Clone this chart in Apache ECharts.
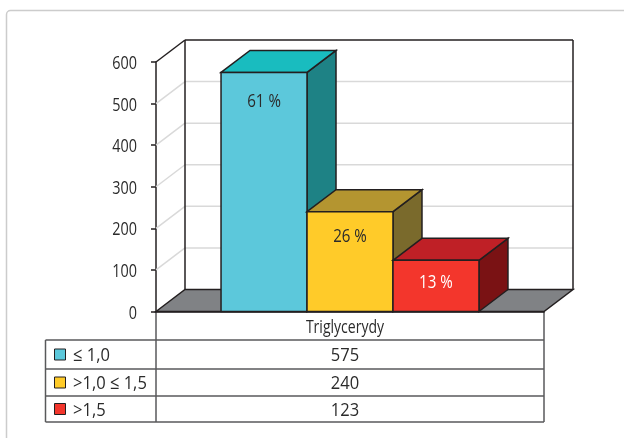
<!DOCTYPE html>
<html>
<head>
<meta charset="utf-8">
<style>html,body{margin:0;padding:0;background:#fff}#chart{width:624px;height:438px}</style>
<script src="https://cdn.jsdelivr.net/npm/echarts@6/dist/echarts.min.js"></script>
</head>
<body>
<div id="chart"></div>
<script>
// Triglycerides: patient counts by concentration range
const categories = ['Triglycerydy'];
const seriesNames = ['≤ 1,0', '>1,0 ≤ 1,5', '>1,5'];
const seriesValues = [575, 240, 123];
const percentLabels = ['61 %', '26 %', '13 %'];
const yTicks = [0, 100, 200, 300, 400, 500, 600];

// Face colours of each box: front, top, side
const frontColors = ['#5cc8db', '#ffcb29', '#f3362c'];
const topColors = ['#19bcbf', '#b49530', '#bf2026'];
const sideColors = ['#1e8285', '#7a6a2c', '#7a1214'];
const labelColors = ['#2b2b2b', '#2b2b2b', '#ffffff'];
const labelDrops = [29, 25, 23];

const FONT = '"Open Sans", sans-serif';
const INK = '#231f20';
const TEXT = '#2b2b2b';
const DX = 29, DY = -22;          // oblique projection of the depth axis
const BAR_SHARE = 0.2216;         // box width as a share of the category band
const TABLE = { left: 45.5, split: 156, right: 544, mid: 345, rows: [311.5, 340, 369, 396, 422] };

function poly(points, fill, stroke, width) {
  return {
    type: 'polygon',
    shape: { points },
    style: { fill, stroke: stroke || null, lineWidth: width || 0, lineJoin: 'miter' }
  };
}
function seg(x1, y1, x2, y2, stroke, width) {
  return { type: 'line', shape: { x1, y1, x2, y2 }, style: { stroke, lineWidth: width } };
}
// Condensed lettering: regular face squeezed horizontally around its anchor
function narrowText(x, y, text, fill, align, squeeze, size) {
  return {
    type: 'text',
    x, y,
    scaleX: squeeze,
    style: { x: 0, y: 0, text, fill, font: size + 'px ' + FONT, align, verticalAlign: 'middle' }
  };
}

// Back wall, side wall gridlines, floor and the value scale lettering
function renderWalls(params, api) {
  const band = api.size([1, 0])[0];
  const cx = api.coord([0, 0])[0];
  const l = cx - band / 2, r = cx + band / 2;
  const children = [];
  const y0 = api.coord([0, 0])[1];
  const yTop = api.coord([0, yTicks[yTicks.length - 1]])[1];
  yTicks.forEach(t => {
    const y = api.coord([0, t])[1];
    children.push(narrowText(l - 19, y + 2, String(t), TEXT, 'right', 0.8, 18));
    if (t === 0 || t === yTicks[yTicks.length - 1]) return;
    children.push(seg(l, y, l + DX, y + DY, '#d9d9d9', 1.5));
    children.push(seg(l + DX, y + DY, r + DX, y + DY, '#d9d9d9', 1.5));
  });
  children.push(poly([[l, y0], [l + DX, y0 + DY], [r + DX, y0 + DY], [r, y0]], '#808285', INK, 1.5));
  children.push(seg(l, yTop, l + DX, yTop + DY, INK, 1.5));
  children.push(seg(l + DX, yTop + DY, r + DX, yTop + DY, INK, 1.5));
  children.push(seg(l + DX, yTop + DY, l + DX, y0 + DY, INK, 1.5));
  children.push(seg(r + DX, yTop + DY, r + DX, y0 + DY, INK, 1.5));
  children.push(narrowText(TABLE.mid, y0 + 16, categories[0], TEXT, 'center', 0.78, 18));
  return { type: 'group', children };
}

// One oblique box per range, standing side by side in the band
function boxRenderer(i) {
  return function (params, api) {
    const band = api.size([1, 0])[0];
    const w = band * BAR_SHARE;
    const cx = api.coord([api.value(0), 0])[0] + (i - 1) * w;
    const y0 = api.coord([api.value(0), 0])[1];
    const y1 = api.coord([api.value(0), api.value(1)])[1];
    const a = cx - w / 2, b = cx + w / 2;
    return {
      type: 'group',
      children: [
        poly([[b, y0], [b + DX, y0 + DY], [b + DX, y1 + DY], [b, y1]], sideColors[i], INK, 1.5),
        poly([[a, y1], [a + DX, y1 + DY], [b + DX, y1 + DY], [b, y1]], topColors[i], INK, 1.5),
        poly([[a, y0], [a, y1], [b, y1], [b, y0]], frontColors[i], INK, 1.5),
        narrowText((a + b) / 2, y1 + labelDrops[i], percentLabels[i], labelColors[i], 'center', 0.84, 18)
      ]
    };
  };
}

// Data table under the plot, with the colour key in its first column
function tableGraphics() {
  const els = [];
  const c = '#58595b';
  const R = TABLE.rows;
  const rule = (x1, y1, x2, y2) => ({ type: 'line', shape: { x1, y1, x2, y2 }, style: { stroke: c, lineWidth: 1.5 } });
  R.slice(1).forEach(y => els.push(rule(TABLE.left, y, TABLE.right, y)));
  els.push(rule(TABLE.left, R[1], TABLE.left, R[4]));
  els.push(rule(TABLE.split, R[0], TABLE.split, R[4]));
  els.push(rule(TABLE.right, R[0], TABLE.right, R[4]));
  seriesNames.forEach((name, i) => {
    const mid = (R[i + 1] + R[i + 2]) / 2;
    els.push({ type: 'rect', shape: { x: 54.5, y: mid - 5.5, width: 11, height: 11 }, style: { fill: frontColors[i], stroke: INK, lineWidth: 1 } });
    els.push(narrowText(73, mid + 1.5, name, TEXT, 'left', 0.87, 19));
    els.push(narrowText(TABLE.mid, mid + 1.5, String(seriesValues[i]), TEXT, 'center', 0.87, 19));
  });
  // Outer card border
  els.unshift({ type: 'rect', shape: { x: 6.5, y: 10.5, width: 660, height: 470, r: 4 }, style: { fill: '#fff', stroke: '#cccccc', lineWidth: 1.5 }, z: -10 });
  return els;
}

const chart = echarts.init(document.getElementById('chart'), null, { renderer: 'canvas' });
chart.setOption({
  animation: false,
  backgroundColor: '#ffffff',
  textStyle: { fontFamily: FONT },
  grid: { left: 156, top: 62, width: 388, height: 249.5 },
  xAxis: {
    type: 'category',
    data: categories,
    axisLine: { lineStyle: { color: INK, width: 1.5 } },
    axisTick: { show: false },
    axisLabel: { show: false },
    splitLine: { show: false }
  },
  yAxis: {
    type: 'value',
    min: 0,
    max: 600,
    interval: 100,
    axisLine: { show: true, lineStyle: { color: INK, width: 1.5 } },
    axisTick: { show: true, length: 5, lineStyle: { color: INK, width: 1.5 } },
    axisLabel: { show: false },
    splitLine: { show: false }
  },
  graphic: { elements: tableGraphics() },
  series: [
    { type: 'custom', silent: true, z: 1, renderItem: renderWalls, data: [[0]], encode: { x: 0 } }
  ].concat(seriesNames.map((name, i) => ({
    type: 'custom',
    name,
    silent: true,
    z: 2 + i,
    renderItem: boxRenderer(i),
    encode: { x: 0, y: 1 },
    data: [[0, seriesValues[i]]]
  })))
});
</script>
</body>
</html>
